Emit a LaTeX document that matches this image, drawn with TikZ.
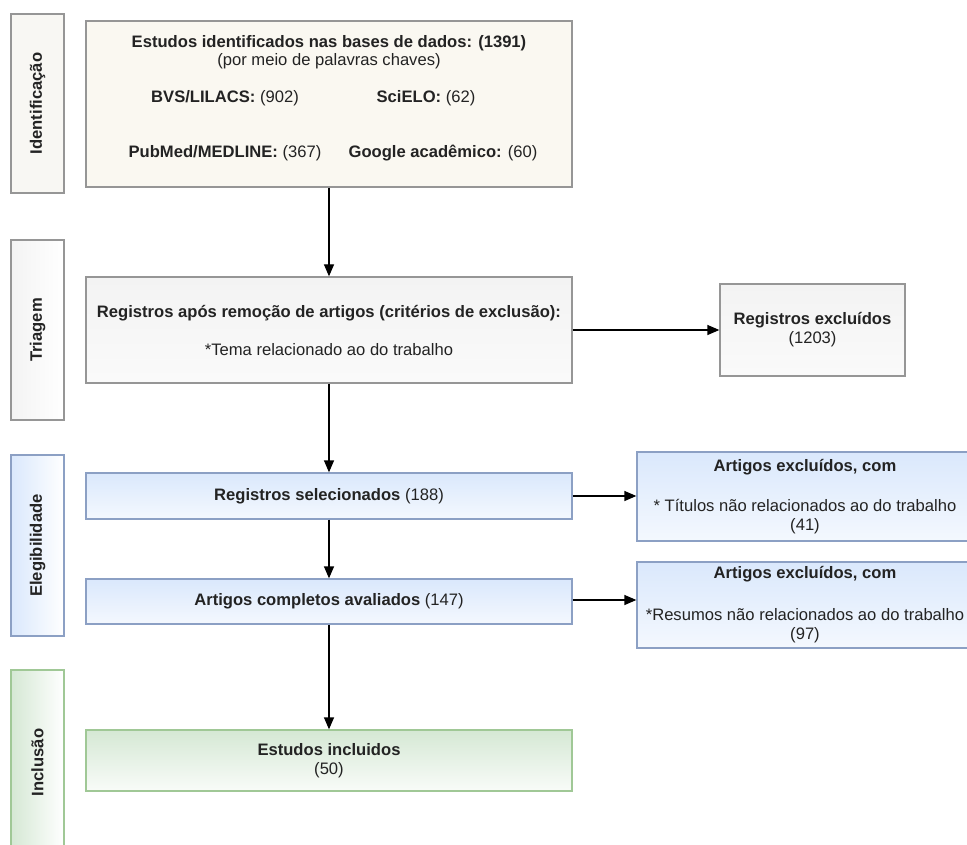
\documentclass[tikz,border=0pt]{standalone}
\usepackage{fontspec}
\setmainfont{Liberation Sans}
\usetikzlibrary{arrows.meta}

\definecolor{boxline}{RGB}{150,150,150}
\definecolor{txtgray}{RGB}{35,35,35}
\definecolor{creamfill}{RGB}{250,248,241}
\definecolor{grayfill}{RGB}{243,243,243}
\definecolor{sidefill}{RGB}{248,247,243}
\definecolor{blueline}{RGB}{140,160,196}
\definecolor{bluefill}{RGB}{218,232,252}
\definecolor{greenline}{RGB}{160,200,150}
\definecolor{greenfill}{RGB}{213,232,212}

\begin{document}
\begin{tikzpicture}[x=1pt,y=1pt,yscale=-1,xscale=1,
  every node/.style={font=\fontsize{16.6}{19}\selectfont, text=txtgray, align=center},
  flowbox/.style={draw=boxline, line width=1.3pt, inner sep=2pt},
  creambox/.style={flowbox, fill=creamfill},
  graybox/.style={flowbox, top color=grayfill, bottom color=grayfill!40!white},
  bluebox/.style={flowbox, draw=blueline, top color=bluefill, bottom color=bluefill!30!white},
  greenbox/.style={flowbox, draw=greenline, top color=greenfill, bottom color=greenfill!15!white},
  sidebox/.style={flowbox, minimum width=53pt},
  arr/.style={-{Triangle[length=12pt,width=10pt]}, line width=1.3pt, black}]
        \path[use as bounding box, clip] (0,0) rectangle (967,845);

        %Shape: Side boxes
        \node[sidebox, fill=sidefill, minimum height=179pt] (sideident) at (37.5,103.5) {\rotatebox{90}{\textbf{Identificação}}};
        \node[sidebox, left color=grayfill, right color=white, minimum height=180pt] (sidetriagem) at (37.5,330) {\rotatebox{90}{\textbf{Triagem}}};
        \node[sidebox, draw=blueline, left color=bluefill, right color=white, minimum height=181pt] (sideeleg) at (37.5,545.5) {\rotatebox{90}{\textbf{Elegibilidade}}};
        \node[sidebox, draw=greenline, left color=greenfill, right color=white, minimum height=185pt] (sideincl) at (37.5,762.5) {\rotatebox{90}{\textbf{Inclusão}}};

        %Shape: Rectangle (identificacao)
        \node[creambox, minimum width=486pt, minimum height=166pt] (ident) at (329,104) {};
        % Text Node
        \node[font=\fontsize{16.6}{18}\selectfont] (titulo) at (329,52) {\textbf{Estudos identificados nas bases de dados: (1391)}\\(por meio de palavras chaves)};
        % Text Node
        \node (bvs) at (225,98) {\textbf{BVS/LILACS:} (902)};
        % Text Node
        \node (scielo) at (426,98) {\textbf{SciELO:} (62)};
        % Text Node
        \node (pubmed) at (225,153) {\textbf{PubMed/MEDLINE:} (367)};
        % Text Node
        \node (google) at (443,153) {\textbf{Google acadêmico:} (60)};

        %Shape: Rectangle (triagem)
        \node[graybox, minimum width=486pt, minimum height=106pt] (triagem) at (329,330) {\textbf{Registros após remoção de artigos (critérios de exclusão):}\\[19pt]*Tema relacionado ao do trabalho};
        %Shape: Rectangle (excluidos)
        \node[graybox, minimum width=185pt, minimum height=92pt] (excluidos) at (812.5,330) {\textbf{Registros excluídos}\\(1203)};

        %Shape: Rectangle (elegibilidade)
        \node[bluebox, minimum width=486pt, minimum height=46pt] (selecionados) at (329,496) {\textbf{Registros selecionados} (188)};
        \node[bluebox, minimum width=336pt, minimum height=89pt] (artexcl1) at (805,496.5) {\textbf{Artigos excluídos, com}\\[21pt]* Títulos não relacionados ao do trabalho\\(41)};
        \node[bluebox, minimum width=486pt, minimum height=45pt] (completos) at (329,601.5) {\textbf{Artigos completos avaliados} (147)};
        \node[bluebox, minimum width=336pt, minimum height=86pt] (artexcl2) at (805,605) {\textbf{Artigos excluídos, com}\\[23pt]*Resumos não relacionados ao do trabalho\\(97)};

        %Shape: Rectangle (inclusao)
        \node[greenbox, minimum width=486pt, minimum height=61pt] (incluidos) at (329,760.5) {\textbf{Estudos incluidos}\\(50)};

        %Straight Lines
        \draw[arr] (ident.south) -- (triagem.north);
        \draw[arr] (triagem.south) -- (selecionados.north);
        \draw[arr] (selecionados.south) -- (completos.north);
        \draw[arr] (completos.south) -- (incluidos.north);
        \draw[arr] (triagem.east) -- (excluidos.west);
        \draw[arr] (selecionados.east) -- (selecionados.east -| artexcl1.west);
        \draw[arr] ([yshift=-1.5pt]completos.east) -- ([yshift=-1.5pt]completos.east -| artexcl2.west);
\end{tikzpicture}
\end{document}
